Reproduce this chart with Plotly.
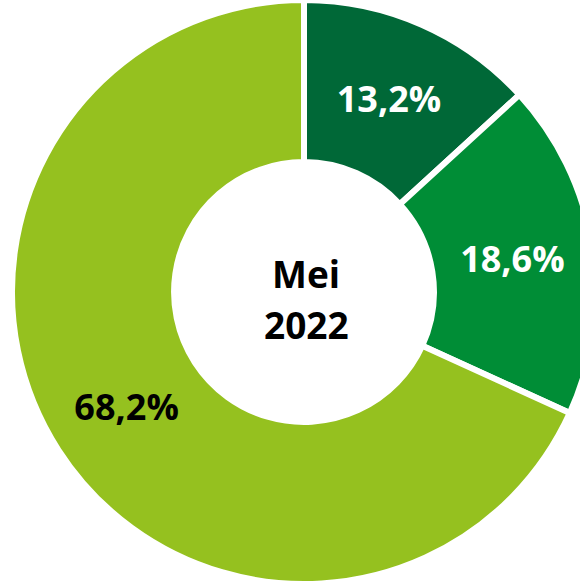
import plotly.graph_objects as go

categories = ["Segment A", "Segment B", "Segment C"]
values = [13.2, 18.6, 68.2]
value_labels = ["13,2%", "18,6%", "68,2%"]
colors = ["#006837", "#008D36", "#95C11F"]
label_colors = ["white", "white", "black"]
center_lines = ["Mei", "2022"]

FONT = "Open Sans"

fig = go.Figure(go.Pie(
    labels=categories,
    values=values,
    text=value_labels,
    texttemplate="<b>%{text}</b>",
    textposition="inside",
    insidetextorientation="horizontal",
    textfont=dict(family=FONT, size=36, color=label_colors),
    marker=dict(colors=colors, line=dict(color="white", width=6)),
    hole=0.445,
    sort=False,
    direction="clockwise",
    rotation=0,
    showlegend=False,
    hoverinfo="label+percent",
    domain=dict(x=[0, 1], y=[0, 1]),
))

fig.add_annotation(text="<b>%s</b>" % center_lines[0], x=0.504, y=0.5325,
                   xref="paper", yref="paper", showarrow=False,
                   font=dict(family=FONT, size=37, color="black"))
fig.add_annotation(text="<b>%s</b>" % center_lines[1], x=0.504, y=0.4435,
                   xref="paper", yref="paper", showarrow=False,
                   font=dict(family=FONT, size=37, color="black"))

fig.update_layout(
    width=608, height=584,
    margin=dict(l=0, r=0, t=0, b=0),
    paper_bgcolor="white",
    plot_bgcolor="white",
)

fig.write_html("out.html",
               config={"displayModeBar": False},
               post_script="document.body.style.margin='0';document.body.style.overflow='hidden';")
